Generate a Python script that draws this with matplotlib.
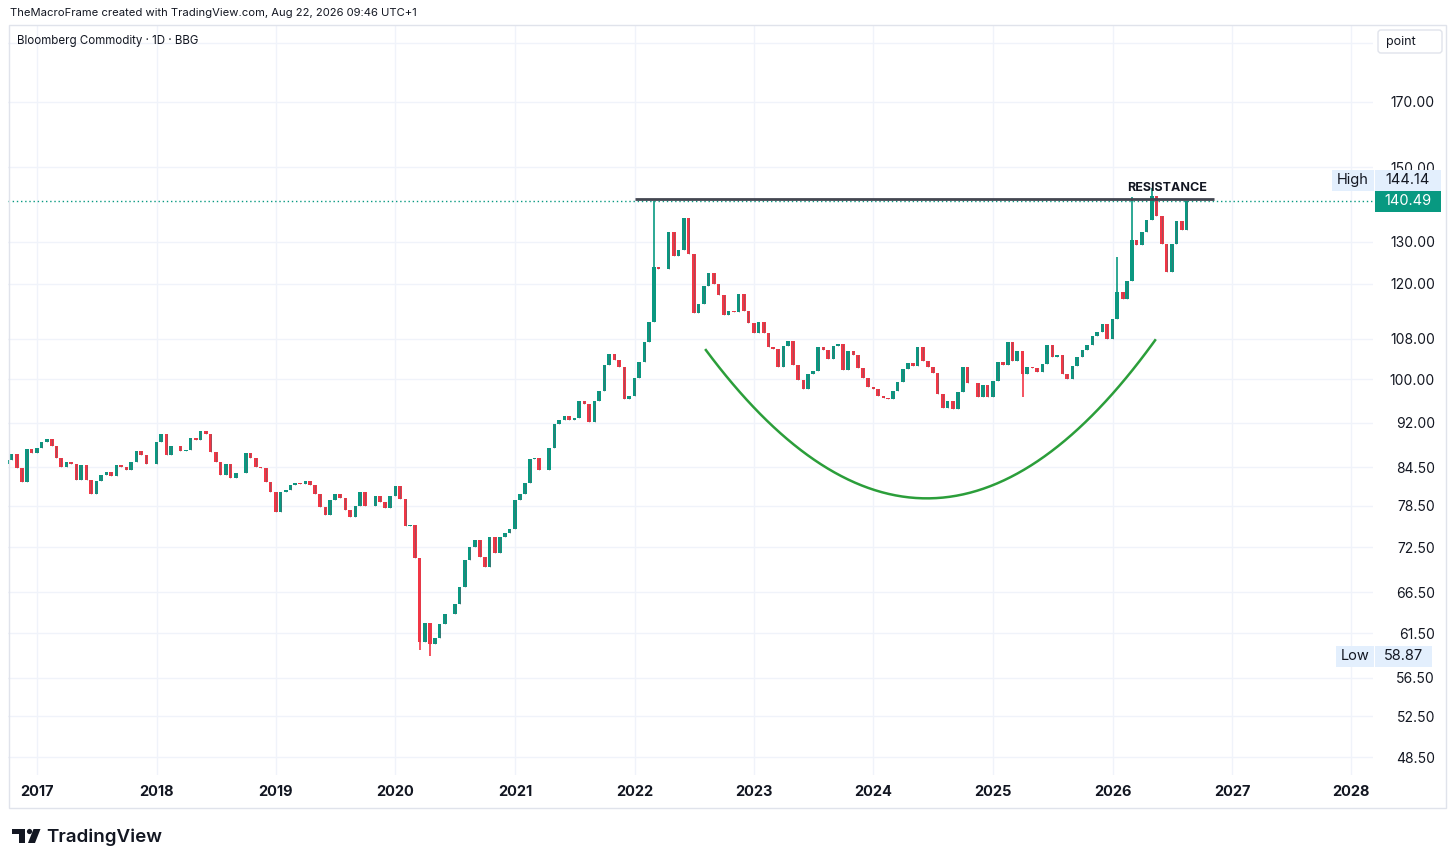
import numpy as np
import pandas as pd
import matplotlib
matplotlib.use("Agg")
import matplotlib.pyplot as plt
import matplotlib.dates as mdates
from matplotlib.patches import Rectangle, FancyBboxPatch, Polygon, Circle
from matplotlib.transforms import IdentityTransform
from matplotlib.ticker import NullLocator

plt.rcParams['font.family'] = ['Inter', 'DejaVu Sans']

# semi-monthly closes (Oct 2016 .. Aug 2026)
dates = pd.date_range('2016-10-01', periods=238, freq='SMS')
closes = [
    # 2016 Q4
    85.7, 86.6, 84.3, 82.1, 87.5, 86.8,
    # 2017
    87.6, 88.6, 89.2, 88.0, 86.0, 84.6, 85.3, 85.0, 82.4, 84.8, 82.5, 80.2,
    82.3, 83.3, 83.7, 83.0, 84.8, 84.6, 84.0, 85.4, 87.2, 86.5, 85.0, 85.0,
    # 2018
    88.6, 90.0, 86.5, 88.0, 88.0, 87.2, 87.3, 89.3, 89.0, 90.5, 90.0, 87.0,
    85.3, 83.3, 85.0, 82.8, 83.5, 83.5, 86.8, 86.0, 84.5, 84.3, 82.2, 80.6,
    # 2019
    77.5, 80.6, 80.9, 81.6, 82.0, 81.8, 82.3, 81.6, 80.2, 78.3, 77.1, 79.3,
    80.3, 79.7, 77.8, 76.8, 78.4, 80.6, 78.5, 78.4, 79.9, 79.1, 78.1, 80.0,
    # 2020
    81.5, 79.5, 75.5, 75.6, 71.0, 60.5, 62.7, 60.3, 61.0, 62.6, 63.8, 63.8,
    65.0, 67.2, 70.8, 72.5, 73.5, 71.1, 69.8, 73.9, 71.7, 73.9, 74.5, 75.0,
    # 2021
    79.3, 80.2, 82.0, 85.8, 86.0, 84.0, 84.0, 87.6, 91.8, 92.5, 93.2, 92.5,
    92.9, 95.8, 95.3, 92.2, 95.8, 97.8, 102.7, 105.0, 103.8, 102.4, 96.2, 96.9,
    # 2022
    100.2, 103.4, 107.4, 111.5, 124.0, 123.5, 123.4, 132.5, 126.6, 128.0, 136.0, 127.0,
    113.5, 115.5, 119.5, 122.5, 120.0, 117.5, 113.0, 114.0, 113.6, 117.6, 114.0, 111.3,
    # 2023
    109.3, 111.5, 109.3, 106.4, 106.0, 102.4, 106.6, 107.6, 102.7, 99.8, 98.2, 101.0,
    101.6, 106.3, 105.8, 104.0, 106.5, 106.9, 101.7, 105.6, 104.8, 102.2, 100.2, 98.4,
    # 2024
    98.2, 96.8, 96.5, 96.3, 97.8, 99.4, 102.0, 103.1, 102.6, 106.3, 103.6, 102.3,
    101.1, 97.2, 94.6, 95.8, 94.4, 97.5, 102.3, 99.2, 99.2, 96.7, 98.8, 96.6,
    # 2025
    99.7, 103.4, 102.8, 107.3, 103.5, 105.6, 101.0, 102.3, 102.2, 101.4, 102.9, 106.7,
    104.4, 104.8, 101.0, 100.1, 102.5, 104.4, 105.8, 106.8, 108.5, 109.4, 111.0, 108.0,
    # 2026
    112.2, 118.0, 116.5, 120.6, 130.5, 129.2, 132.5, 135.5, 142.0, 136.5, 129.5, 122.7,
    129.5, 135.3, 133.0, 140.49,
]
first_open = 85.0

# visible wick extremes
wick_dates = ['2020-03-15', '2020-04-15', '2022-03-01', '2025-04-01',
              '2026-01-15', '2026-03-01', '2026-05-01']
wick_prices = [59.6, 58.87, 140.5, 96.6, 126.3, 141.6, 144.14]

price_levels = [190, 170, 150, 130, 120, 108, 100, 92, 84.5, 78.5, 72.5,
                66.5, 61.5, 56.5, 52.5, 48.5]
hidden_levels = [190]  # label sits under the "point" box
years = list(range(2017, 2029))

last_price = 140.49
high_price = 144.14
low_price = 58.87
resistance = 141.0

# cup curve anchors (start, bottom, end)
cup_dates = ['2022-08-07', '2024-06-16', '2026-05-11']
cup_prices = [105.7, 79.6, 107.7]

UP = '#089981'
DOWN = '#f23645'
TXT = '#131722'
GRID = '#f0f3fa'

W, H = 1456, 865
fig = plt.figure(figsize=(W / 100, H / 100), dpi=100)
fig.patch.set_facecolor('white')


def fx(px):
    return px / W


def fy(py):
    return 1 - py / H


ax = fig.add_axes([fx(8), fy(775), fx(1373) - fx(8), fy(25) - fy(775)])
ax.set_yscale('log')
ax.set_xlim(pd.Timestamp('2016-10-04'), pd.Timestamp('2028-03-07'))
ax.set_ylim(46.9, 196.8)
for s in ax.spines.values():
    s.set_visible(False)

# candles
opens = [first_open] + closes[:-1]
x = mdates.date2num(dates)
lo = np.minimum(opens, closes)
hi = np.maximum(opens, closes)
cols = [UP if c >= o else DOWN for o, c in zip(opens, closes)]
ax.bar(x, hi - lo, bottom=lo, width=11, color=cols, linewidth=0, zorder=3)
ax.vlines(x, lo, hi, colors='#5d606b', lw=0.6, alpha=0.6, zorder=3)
for d, p in zip(wick_dates, wick_prices):
    i = int(np.argmin(np.abs(x - mdates.date2num(pd.Timestamp(d)))))
    c = cols[i]
    ax.vlines(x[i], min(p, lo[i]), max(p, hi[i]), color=c, lw=1.2, zorder=3)

# last price dotted line
ax.axhline(last_price, color=UP, lw=1, ls=(0, (1, 2)), zorder=2)

# resistance
ax.hlines(resistance, pd.Timestamp('2022-01-01'), pd.Timestamp('2026-11-06'),
          color='#434651', lw=2, zorder=4)
ax.annotate('RESISTANCE', xy=(pd.Timestamp('2026-06-17'), resistance),
            xytext=(0, 4), textcoords='offset points', ha='center',
            va='bottom', fontsize=9, fontweight='bold', color=TXT, zorder=5)

# cup curve
cx = mdates.date2num(pd.to_datetime(cup_dates))
coef = np.polyfit(cx, np.log(cup_prices), 2)
xs = np.linspace(cx[0], cx[-1], 200)
ax.plot(xs, np.exp(np.polyval(coef, xs)), color='#2b9e3a', lw=1.8, zorder=4)

# axes, grid
ax.yaxis.tick_right()
ax.set_yticks(price_levels)
ax.set_yticklabels(['' if v in hidden_levels else f'{v:.2f}' for v in price_levels])
ax.yaxis.set_minor_locator(NullLocator())
ax.tick_params(axis='y', length=0, pad=44.6, labelsize=10, labelcolor=TXT)
for lbl in ax.get_yticklabels():
    lbl.set_ha('right')
ax.set_xticks([pd.Timestamp(f'{y}-01-01') for y in years])
ax.set_xticklabels([str(y) for y in years])
ax.tick_params(axis='x', length=0, pad=7, labelsize=10.5, labelcolor=TXT)
for lbl in ax.get_xticklabels():
    lbl.set_fontweight('bold')
ax.grid(True, color=GRID, lw=1, zorder=0)
ax.set_axisbelow(True)

# frame
fig.add_artist(Rectangle((8.5, H - 807.5), 1437.5, 782.5, fill=False,
                         ec='#e0e3eb', lw=1, transform=IdentityTransform()))


def py_of(price):
    return H - ax.transData.transform((x[0], price))[1]


def label_box(x0, x1, yc, text, face, color, h=21):
    fig.add_artist(Rectangle((x0, H - yc - h / 2), x1 - x0, h, fc=face, ec='none',
                             transform=IdentityTransform(), zorder=5))
    fig.text(fx((x0 + x1) / 2), fy(yc), text, ha='center', va='center',
             fontsize=10.5, color=color, zorder=6)


LBL = '#e3effd'
y_last = py_of(last_price)
label_box(1375, 1441, y_last, f'{last_price:.2f}', UP, 'white')
label_box(1375, 1441, y_last - 21, f'{high_price:.2f}', LBL, TXT)
label_box(1332, 1374, y_last - 21, 'High', LBL, TXT)
y_low = py_of(low_price)
label_box(1375, 1432, y_low, f'{low_price:.2f}', LBL, TXT)
label_box(1336, 1374, y_low, 'Low', LBL, TXT)

# "point" box
fig.add_artist(FancyBboxPatch((1378, H - 53), 64, 23,
                              boxstyle='round,pad=0,rounding_size=3',
                              fc='white', ec='#e0e3eb', lw=1,
                              transform=IdentityTransform(), zorder=5))
fig.text(fx(1386), fy(41.5), 'point', ha='left', va='center', fontsize=9,
         color=TXT, zorder=6)

# header
fig.text(fx(10), fy(13), 'TheMacroFrame created with TradingView.com, Aug 22, 2026 09:46 UTC+1',
         ha='left', va='center', fontsize=8.1, color=TXT)
fig.text(fx(17), fy(41), 'Bloomberg Commodity · 1D · BBG', ha='left', va='center',
         fontsize=8.3, color=TXT)

# TradingView logo
it = IdentityTransform()
fig.add_artist(Polygon([(12, H - 829), (25, H - 829), (25, H - 843), (18.5, H - 843),
                        (18.5, H - 834), (12, H - 834)], closed=True, fc=TXT,
                       ec='none', transform=it))
fig.add_artist(Circle((29.5, H - 831.5), 2.6, fc=TXT, ec='none', transform=it))
fig.add_artist(Polygon([(28, H - 843), (35, H - 843), (40.5, H - 829), (33.5, H - 829)],
                       closed=True, fc=TXT, ec='none', transform=it))
fig.text(fx(46), fy(842.5), 'TradingView', ha='left', va='baseline', fontsize=13.5,
         fontweight='semibold', color=TXT)

fig.savefig('out.png', dpi=100)
